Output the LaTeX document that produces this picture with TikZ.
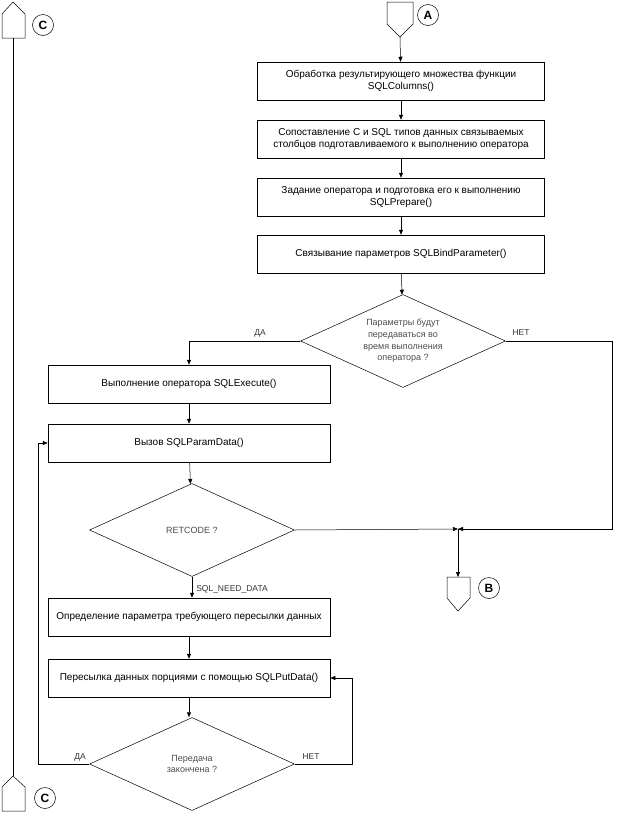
\documentclass[tikz,border=0pt]{standalone}
\usepackage{fontspec}
\setmainfont{Liberation Sans}
\usetikzlibrary{shapes.geometric,arrows.meta}
\begin{document}
\begin{tikzpicture}[x=1pt,y=-1pt,>={Triangle[length=5pt,width=4pt]},line width=0.5pt]
	\tikzstyle{every node}+=[inner sep=0pt,font=\fontsize{10}{12.5}\selectfont]
	\tikzstyle{blk}=[draw,align=center,minimum height=38pt]
	\tikzstyle{upblk}=[blk,minimum width=287pt]
	\tikzstyle{lowblk}=[blk,minimum width=282pt]
	\tikzstyle{cond}=[draw,diamond,aspect=2.2,align=center,minimum width=205pt,minimum height=93pt,text=black!70,font=\fontsize{9}{11.7}\selectfont]
	\tikzstyle{lbl}=[circle,draw,minimum size=21pt,font=\fontsize{12}{12}\bfseries]
	\tikzstyle{tag}=[font=\fontsize{8.5}{10}\selectfont,text=black!80]
	\useasboundingbox (0,0) rectangle (623,814);
	\draw (387,2) -- (413,2) -- (413,24) -- (400,37) coordinate (atip) -- (387,24) -- cycle;
	\node [lbl] (la) at (428,15) {A};
	\node [upblk] (res) at (401,81) {Обработка результирующего множества функции\\SQLColumns()};
	\node [upblk] (map) at (401,139) {Сопоставление C и SQL типов данных связываемых\\столбцов подготавливаемого к выполнению оператора};
	\node [upblk] (prep) at (401,197) {Задание оператора и подготовка его к выполнению\\SQLPrepare()};
	\node [upblk] (bind) at (401,254) {Связывание параметров SQLBindParameter()};
	\node [cond] (exec) at (403,341) {Параметры будут\\передаваться во\\время выполнения\\оператора ?};
	\node [lowblk] (run) at (189,384) {Выполнение оператора SQLExecute()};
	\node [lowblk] (pdata) at (189,443) {Вызов SQLParamData()};
	\node [cond] (ret) at (192,530) {RETCODE ?};
	\node [lowblk] (which) at (189,617) {Определение параметра требующего пересылки данных};
	\node [lowblk] (put) at (189,678) {Пересылка данных порциями с помощью SQLPutData()};
	\node [cond] (done) at (192,764) {Передача\\закончена ?};
	\coordinate (jn) at (458,529);
	\coordinate (nr) at (612,341);
	\coordinate (lx) at (38,764);
	\coordinate (rx) at (352,764);
	\draw (447,577) coordinate (btop) -- (470,577) -- (470,598) -- (458,611) -- (447,598) -- cycle;
	\node [lbl] (lb) at (489,588) {B};
	\draw (13,2) -- (25,14) -- (25,38) -- (2,38) -- (2,14) -- cycle;
	\node [lbl] (lc) at (43,25) {C};
	\draw (13,776) -- (25,787) -- (25,811) -- (2,811) -- (2,787) -- cycle;
	\node [lbl] (lc2) at (45,798) {C};
	\draw (13,38) -- (13,776);
	\draw [->] (atip) -- (res);
	\draw [->] (res) -- (map);
	\draw [->] (map) -- (prep);
	\draw [->] (prep) -- (bind);
	\draw [->] (bind) -- (exec);
	\draw [->] (exec.west) -| (run.north);
	\node [tag] at (260,333) {ДА};
	\draw [->] (exec.east) -- (nr) |- (jn);
	\node [tag] at (521,333) {НЕТ};
	\draw [->] (run) -- (pdata);
	\draw [->] (pdata) -- (ret);
	\draw [->] (ret.east) -- (jn);
	\draw [->] (jn) -- (btop -| jn);
	\draw [->] (ret.south) -- (which.north -| ret.south);
	\node [tag,anchor=west] at (196,589) {SQL\_NEED\_DATA};
	\draw [->] (which) -- (put);
	\draw [->] (put) -- (put |- done.north);
	\draw [->] (done.west) -- (lx) |- (pdata.west);
	\node [tag] at (80,757) {ДА};
	\draw [->] (done.east) -- (rx) |- (put.east);
	\node [tag] at (311,757) {НЕТ};
\end{tikzpicture}
\end{document}
